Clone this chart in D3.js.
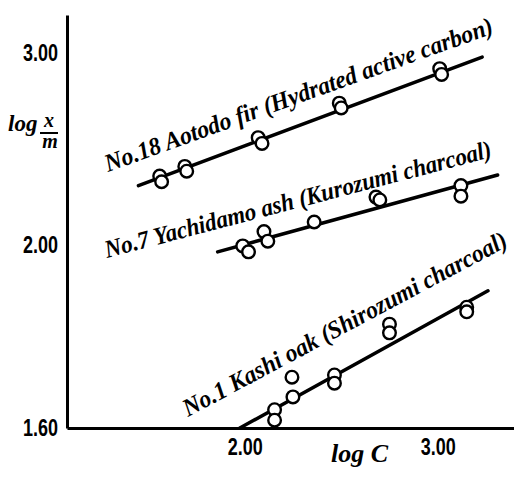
<!DOCTYPE html>
<html>
<head>
<meta charset="utf-8">
<script src="https://cdn.jsdelivr.net/npm/d3@7"></script>
<style>
  body { margin: 0; background: #fff; }
  svg { display: block; }
  .hand { font-family: "Liberation Serif", serif; font-style: italic; font-weight: bold; }
  .tick text { font-family: "Liberation Sans", sans-serif; font-weight: bold; }
</style>
</head>
<body>
<svg id="chart" width="514" height="480"></svg>
<script>
// tick values (log C, log x/m)
const xTicks = [2.0, 3.0];
const yTicks = [1.6, 2.0, 3.0];

const seriesNames = [
  "No.18 Aotodo fir (Hydrated active carbon)",
  "No.7 Yachidamo ash (Kurozumi charcoal)",
  "No.1 Kashi oak (Shirozumi charcoal)"
];

const fir18X = [1.56, 1.57, 1.69, 1.70, 2.07, 2.09, 2.49, 2.50, 3.01, 3.02];
const fir18Y = [2.36, 2.33, 2.41, 2.385, 2.56, 2.53, 2.74, 2.715, 2.92, 2.89];
const ash7X = [1.99, 2.02, 2.10, 2.12, 2.36, 2.68, 2.70, 3.12, 3.12];
const ash7Y = [1.998, 1.985, 2.07, 2.02, 2.12, 2.25, 2.235, 2.31, 2.255];
const oak1X = [2.155, 2.155, 2.245, 2.25, 2.465, 2.465, 2.75, 2.75, 3.15, 3.15];
const oak1Y = [1.64, 1.617, 1.711, 1.668, 1.716, 1.698, 1.827, 1.808, 1.864, 1.854];

// fitted straight lines (end points)
const fir18FitX = [1.45, 3.23], fir18FitY = [2.31, 2.98];
const ash7FitX = [1.86, 3.31], ash7FitY = [1.985, 2.365];
const oak1FitX = [1.975, 3.26], oak1FitY = [1.6, 1.90];

const svg = d3.select("#chart");

const x = d3.scaleLinear().domain([1.08, 3.4]).range([67, 515]);
// the printed axis is broken below 2.00, so the scale is piecewise
const y = d3.scaleLinear().domain([1.6, 2.0, 3.2]).range([428, 245, 15]);

const xAxis = svg.append("g")
    .attr("transform", "translate(0,428)")
    .call(d3.axisBottom(x).tickValues(xTicks).tickSize(0).tickPadding(11)
        .tickFormat(d3.format(".2f")));
const yAxis = svg.append("g")
    .attr("transform", "translate(67,0)")
    .call(d3.axisLeft(y).tickValues(yTicks).tickSize(0).tickPadding(9)
        .tickFormat(d3.format(".2f")));

[xAxis, yAxis].forEach(a => {
  a.select(".domain").attr("stroke", "#000").attr("stroke-width", 3);
  a.selectAll(".tick text")
      .attr("font-size", 23)
      .attr("fill", "#000")
      .attr("textLength", 35)
      .attr("lengthAdjust", "spacingAndGlyphs");
});

const series = [
  { xs: fir18X, ys: fir18Y, fx: fir18FitX, fy: fir18FitY },
  { xs: ash7X, ys: ash7Y, fx: ash7FitX, fy: ash7FitY },
  { xs: oak1X, ys: oak1Y, fx: oak1FitX, fy: oak1FitY }
];

// label placement: baseline start, angle, length
const labelPos = [
  { x: 108, y: 172, a: -19.8, len: 411 },
  { x: 107, y: 258, a: -14.7, len: 399 },
  { x: 188, y: 417, a: -28.1, len: 364 }
];

const line = d3.line().x(d => x(d[0])).y(d => y(d[1]));

series.forEach((s, i) => {
  const g = svg.append("g");
  g.append("path")
      .attr("d", line(d3.zip(s.fx, s.fy)))
      .attr("fill", "none")
      .attr("stroke", "#000")
      .attr("stroke-width", 3.5)
      .attr("stroke-linecap", "round");
  g.selectAll("circle")
      .data(d3.zip(s.xs, s.ys))
      .enter().append("circle")
      .attr("cx", d => x(d[0]))
      .attr("cy", d => y(d[1]))
      .attr("r", 6.3)
      .attr("fill", "#fff")
      .attr("stroke", "#000")
      .attr("stroke-width", 2.4);

  const p = labelPos[i];
  svg.append("text")
      .attr("class", "hand")
      .attr("transform", `translate(${p.x},${p.y}) rotate(${p.a}) scale(1,1.25)`)
      .attr("font-size", 20)
      .attr("textLength", p.len)
      .attr("lengthAdjust", "spacingAndGlyphs")
      .text(seriesNames[i]);
});

// axis titles
svg.append("text").attr("class", "hand")
    .attr("x", 8).attr("y", 131).attr("font-size", 23)
    .text("log");
svg.append("text").attr("class", "hand")
    .attr("x", 49).attr("y", 127).attr("font-size", 20)
    .attr("text-anchor", "middle").text("x");
svg.append("line")
    .attr("x1", 40).attr("x2", 58).attr("y1", 133).attr("y2", 133)
    .attr("stroke", "#000").attr("stroke-width", 2);
svg.append("text").attr("class", "hand")
    .attr("x", 50).attr("y", 148).attr("font-size", 20)
    .attr("text-anchor", "middle").text("m");

svg.append("text").attr("class", "hand")
    .attr("x", 331).attr("y", 462).attr("font-size", 26)
    .text("log C");
</script>
</body>
</html>
